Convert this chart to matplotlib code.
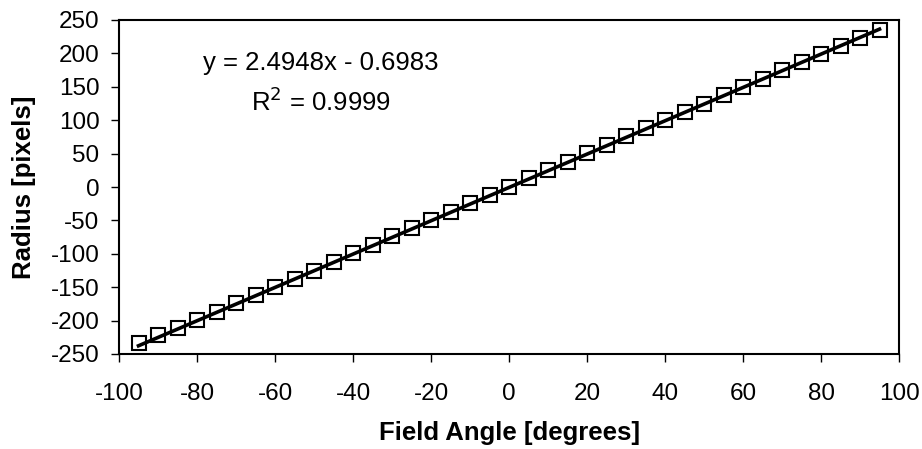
import matplotlib
matplotlib.use("Agg")
import matplotlib.pyplot as plt
import numpy as np

plt.rcParams['font.family'] = ['Liberation Sans', 'DejaVu Sans']
plt.rcParams['axes.unicode_minus'] = False

field_angle = [-95, -90, -85, -80, -75, -70, -65, -60, -55, -50, -45, -40, -35, -30,
               -25, -20, -15, -10, -5, 0, 5, 10, 15, 20, 25, 30, 35, 40, 45, 50, 55,
               60, 65, 70, 75, 80, 85, 90, 95]
radius = [-233, -222, -211, -199, -187, -174, -162, -150, -137, -125, -112, -99, -87,
          -74, -62, -49, -37, -24, -12, 0, 13, 26, 38, 51, 63, 76, 88, 101, 113, 125,
          137, 150, 162, 175, 187, 199, 211, 223, 235]
fit_slope = 2.4948
fit_intercept = -0.6983
fit_range = [-95, 95]
x_ticks = list(range(-100, 101, 20))
y_ticks = list(range(-250, 251, 50))

fig = plt.figure(figsize=(9.22, 4.49), dpi=100)
ax = fig.add_axes([119/922, 1-354/449, 780/922, 334/449])

fx = np.array(fit_range, dtype=float)
ax.plot(fx, fit_slope*fx + fit_intercept, color='black', lw=2.6, zorder=3)
ax.plot(field_angle, radius, linestyle='none', marker='s', ms=9.6,
        mfc='white', mec='black', mew=1.5, zorder=2)

ax.set_xlim(-100, 100)
ax.set_ylim(-250, 250)
ax.set_xticks(x_ticks)
ax.set_yticks(y_ticks)
ax.tick_params(axis='x', direction='out', length=6, width=1, pad=15, labelsize=17.5)
ax.tick_params(axis='y', direction='out', length=6, width=1, pad=8, labelsize=17.5)
for s in ax.spines.values():
    s.set_linewidth(1.5)

ax.set_xlabel('Field Angle [degrees]', fontsize=18.5, fontweight='bold', va='top')
ax.xaxis.set_label_coords(0.5006, -0.200)
ax.set_ylabel('Radius [pixels]', fontsize=18.5, fontweight='bold')
ax.yaxis.set_label_coords(-0.107, 0.5)

ax.text(-48.2, 185, 'y = 2.4948x - 0.6983', fontsize=18.5, ha='center', va='center')
ax.text(-48.2, 127, r'R$^2$ = 0.9999', fontsize=18.5, ha='center', va='center')

fig.savefig('out.png', dpi=100)
